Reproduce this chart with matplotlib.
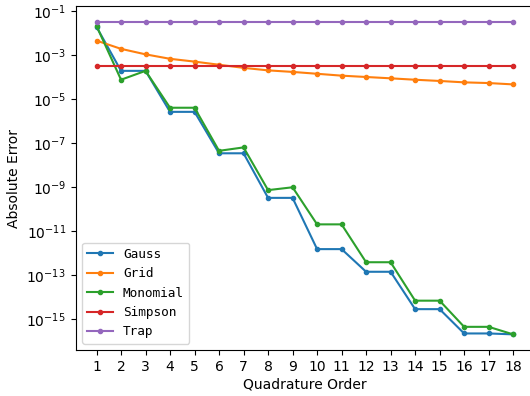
import matplotlib.pyplot as plt
import numpy as np

orders = np.arange(1, 19)

gauss = [1.9e-2, 1.9e-4, 1.9e-4, 2.6e-6, 2.6e-6, 3.4e-8, 3.4e-8, 3.2e-10, 3.2e-10,
         1.5e-12, 1.5e-12, 1.4e-13, 1.4e-13, 2.8e-15, 2.8e-15, 2.2e-16, 2.2e-16, 2.0e-16]
grid = [4.5e-3, 1.9e-3, 1.07e-3, 6.7e-4, 5.0e-4, 3.6e-4, 2.6e-4, 2.0e-4, 1.7e-4,
        1.4e-4, 1.15e-4, 1.0e-4, 8.7e-5, 7.5e-5, 6.6e-5, 5.7e-5, 5.3e-5, 4.6e-5]
monomial = [2.1e-2, 7.5e-5, 1.9e-4, 4.0e-6, 4.0e-6, 4.4e-8, 6.3e-8, 7.2e-10, 9.7e-10,
            2.0e-11, 2.0e-11, 3.8e-13, 3.8e-13, 6.8e-15, 6.8e-15, 4.4e-16, 4.4e-16, 2.0e-16]
simpson = [3.1e-4] * 18
trap = [3.16e-2] * 18

series = {"Gauss": gauss, "Grid": grid, "Monomial": monomial,
          "Simpson": simpson, "Trap": trap}

fig = plt.figure(figsize=(5.3, 3.96), dpi=100)
ax = fig.add_axes([0.1428, 0.1162, 0.8647, 0.8677])

for name, err in series.items():
    ax.semilogy(orders, err, ".-", label=name)

ax.set_xticks(orders)
ax.set_xlabel("Quadrature Order", labelpad=2.5)
ax.set_ylabel("Absolute Error")
ax.legend(loc="lower left", prop={"family": "DejaVu Sans Mono", "size": 9.2})

fig.savefig("out.png", dpi=100)
